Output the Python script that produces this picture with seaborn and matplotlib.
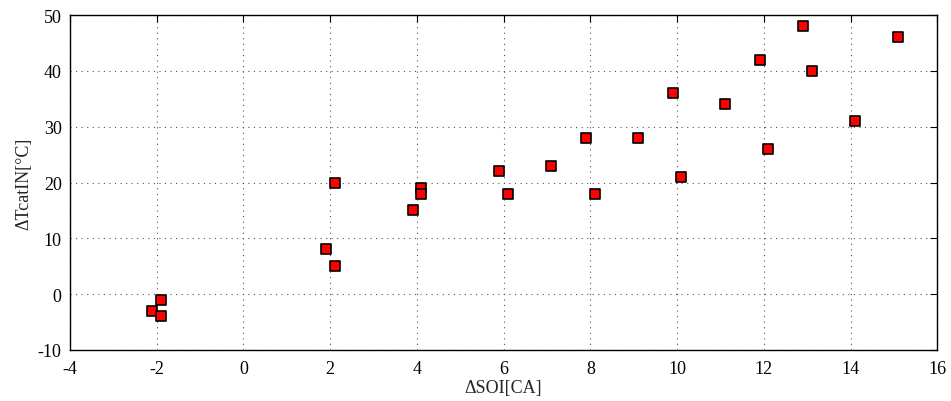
import numpy as np
import pandas as pd
import matplotlib
matplotlib.use("Agg")
import matplotlib.pyplot as plt
import seaborn as sns

soi = [-2.1, -1.9, -1.9, 1.9, 2.1, 2.1, 3.9, 4.1, 4.1, 5.9, 6.1, 7.1,
       7.9, 8.1, 9.1, 9.9, 10.1, 11.1, 11.9, 12.1, 12.9, 13.1, 14.1, 15.1]
tcat = [-3, -1, -4, 8, 5, 20, 15, 19, 18, 22, 18, 23,
        28, 18, 28, 36, 21, 34, 42, 26, 48, 40, 31, 46]

df = pd.DataFrame({"SOI": soi, "Tcat": tcat})

sns.set_style("white")
plt.rcParams['font.family'] = ['Liberation Serif', 'DejaVu Serif']
plt.rcParams['axes.unicode_minus'] = False

fig = plt.figure(figsize=(9.51, 4.02), dpi=100)
ax = fig.add_axes([0.0736, 0.127, 0.912, 0.833])

sns.scatterplot(data=df, x="SOI", y="Tcat", marker="s", s=45,
                color="#ff0000", edgecolor="black", linewidth=1.2, ax=ax, zorder=3)

ax.set_xlim(-4, 16)
ax.set_ylim(-10, 50)
ax.set_xticks(np.arange(-4, 17, 2))
ax.set_yticks(np.arange(-10, 51, 10))
ax.grid(True, linestyle=(0, (1, 4)), color="#555555", linewidth=0.8)
ax.tick_params(direction="in", length=5, width=0.8, top=True, right=True,
               labelsize=13, colors="black")
ax.tick_params(axis="x", pad=7)
ax.tick_params(axis="y", pad=6)
for sp in ax.spines.values():
    sp.set_linewidth(1.0)
    sp.set_color("black")

ax.set_xlabel("ΔSOI[CA]", fontsize=13, labelpad=2)
ax.set_ylabel("ΔTcatIN[°C]", fontsize=13, labelpad=4)

fig.savefig("out.png", dpi=100)
